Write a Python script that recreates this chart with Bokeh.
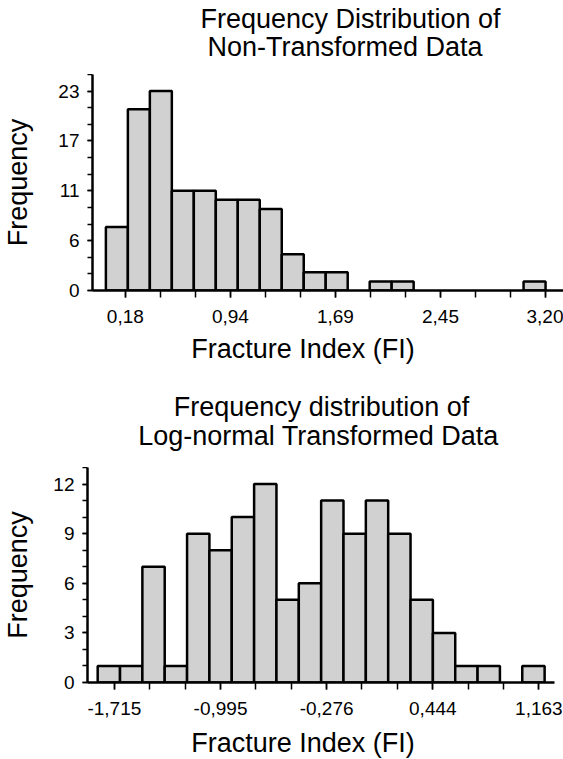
import numpy as np
from bokeh.plotting import figure
from bokeh.models import FixedTicker, Range1d
from bokeh.core.properties import value
from bokeh.layouts import column
from bokeh.embed import file_html
from bokeh.resources import INLINE

# ---------------- data ----------------
# Top: non-transformed data (20 equal bins between bin min and bin max)
nt_counts = [7, 20, 22, 11, 11, 10, 10, 9, 4, 2, 2, 0, 1, 1, 0, 0, 0, 0, 0, 1]
nt_bin_min = 0.04
nt_bin_max = 3.20
nt_xtick_values = [0.18, 0.935, 1.69, 2.445, 3.20]
nt_xtick_labels = ["0,18", "0,94", "1,69", "2,45", "3,20"]
nt_ytick_values = [0, 5.5, 11, 16.5, 22]
nt_ytick_labels = ["0", "6", "11", "17", "23"]
nt_title = ["Frequency Distribution of", "Non-Transformed Data"]

# Bottom: log-normal transformed data
lt_counts = [1, 1, 7, 1, 9, 8, 10, 12, 5, 6, 11, 9, 11, 9, 5, 3, 1, 1, 0, 1]
lt_bin_min = -1.828
lt_bin_max = 1.202
lt_xtick_values = [-1.715, -0.995, -0.276, 0.444, 1.163]
lt_xtick_labels = ["-1,715", "-0,995", "-0,276", "0,444", "1,163"]
lt_ytick_values = [0, 3, 6, 9, 12]
lt_ytick_labels = ["0", "3", "6", "9", "12"]
lt_title = ["Frequency distribution of", "Log-normal Transformed Data"]

x_title = "Fracture Index (FI)"
y_title = "Frequency"

FONT = "Liberation Sans"
BIG = "27px"
SMALL = "19px"
BAR_FILL = "#d1d1d1"
W = 563


def text_strip(height, items):
    """A blank strip whose frame is the whole canvas, in pixel-like coordinates
    (items give the vertical middle of each line)."""
    f = figure(width=W, height=height, output_backend="svg", toolbar_location=None,
               x_range=Range1d(0, W), y_range=Range1d(height, 0),
               x_axis_type=None, y_axis_type=None, min_border=0)
    f.outline_line_color = None
    xs = [it[1] for it in items]
    ys = [it[2] for it in items]
    ts = [it[0] for it in items]
    f.text(x=xs, y=ys, text=ts, text_font=value(FONT), text_font_size=value(BIG),
           text_color="black", text_align="center", text_baseline="middle")
    return f


def make_hist(counts, bmin, bmax, x_range, y_top, xt_vals, xt_labels, n_xminor,
              yt_vals, yt_labels, y_minor_step, height, borders, ylabel_standoff):
    edges = np.linspace(bmin, bmax, len(counts) + 1)
    left = [edges[i] for i, c in enumerate(counts) if c > 0]
    right = [edges[i + 1] for i, c in enumerate(counts) if c > 0]
    top = [c for c in counts if c > 0]

    bl, br, bt, bb = borders
    p = figure(width=W, height=height, output_backend="svg", toolbar_location=None,
               x_range=Range1d(*x_range), y_range=Range1d(0, y_top),
               min_border_left=bl, min_border_right=br, min_border_top=bt,
               min_border_bottom=bb)
    p.quad(left=left, right=right, bottom=0, top=top, fill_color=BAR_FILL,
           line_color="black", line_width=2.5)

    xminor = list(np.linspace(xt_vals[0], xt_vals[-1], n_xminor))
    p.xaxis.ticker = FixedTicker(ticks=xt_vals, minor_ticks=xminor)
    p.xaxis.major_label_overrides = dict(zip(xt_vals, xt_labels))
    ymin = list(np.arange(0, y_top + 1e-6, y_minor_step))
    p.yaxis.ticker = FixedTicker(ticks=yt_vals, minor_ticks=ymin)
    p.yaxis.major_label_overrides = dict(zip(yt_vals, yt_labels))

    for ax in (p.xaxis[0], p.yaxis[0]):
        ax.axis_line_width = 2.5
        ax.axis_line_color = "black"
        ax.major_tick_line_width = 1.5
        ax.minor_tick_line_width = 1.5
        ax.major_tick_line_color = "black"
        ax.minor_tick_line_color = "black"
        ax.major_tick_in = 0
        ax.minor_tick_in = 0
        ax.major_label_text_font = FONT
        ax.major_label_text_font_size = SMALL
        ax.major_label_text_color = "black"
    p.xaxis.major_label_standoff = 12
    p.yaxis.major_label_standoff = 8
    p.xaxis.major_tick_out = 7
    p.xaxis.minor_tick_out = 7
    p.yaxis.major_tick_out = 5
    p.yaxis.minor_tick_out = 5

    p.yaxis.axis_label = y_title
    p.yaxis.axis_label_text_font = FONT
    p.yaxis.axis_label_text_font_size = BIG
    p.yaxis.axis_label_text_font_style = "normal"
    p.yaxis.axis_label_text_color = "black"
    p.yaxis.axis_label_standoff = ylabel_standoff

    p.xgrid.visible = False
    p.ygrid.visible = False
    p.outline_line_color = None
    return p


strip_a = text_strip(74, [(nt_title[0], 350, 18), (nt_title[1], 344.5, 46)])

p1 = make_hist(nt_counts, nt_bin_min, nt_bin_max, (-0.0562, 3.329), 22 * 13 / 12,
               nt_xtick_values, nt_xtick_labels, 13,
               nt_ytick_values, nt_ytick_labels, 22 / 12,
               258, (90, 0, 0, 42), 22)

strip_b = text_strip(135, [(x_title, 302.5, 16),
                           (lt_title[0], 321, 74.7),
                           (lt_title[1], 318, 103.7)])

p2 = make_hist(lt_counts, lt_bin_min, lt_bin_max, (-1.897, 1.269), 13,
               lt_xtick_values, lt_xtick_labels, 13,
               lt_ytick_values, lt_ytick_labels, 1,
               259, (84, 9, 0, 44), 17)

strip_c = text_strip(33, [(x_title, 302.5, 16.7)])

# each figure in its own box so that the outer column does not align their frames
layout = column(column(strip_a), column(p1), column(strip_b), column(p2),
                column(strip_c), spacing=0)
open("out.html", "w").write(file_html(layout, INLINE))
